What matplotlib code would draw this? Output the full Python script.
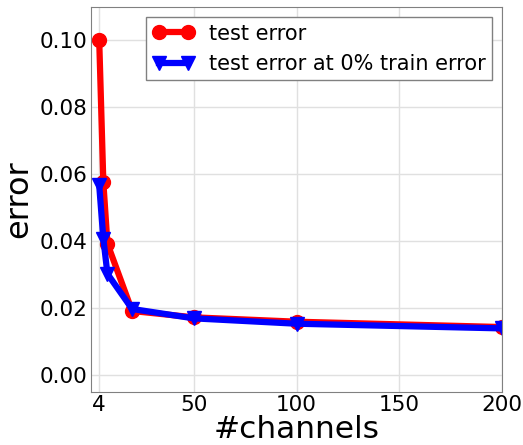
import matplotlib
matplotlib.use("Agg")
import matplotlib.pyplot as plt

channels_red = [4, 6, 8, 20, 50, 100, 200]
test_error = [0.100, 0.0577, 0.0393, 0.0192, 0.0173, 0.0160, 0.0144]

channels_blue = [4, 6, 8, 20, 50, 100, 200]
test_error_zero_train = [0.0567, 0.0408, 0.0303, 0.0198, 0.0170, 0.0154, 0.0140]

xticks = [4, 50, 100, 150, 200]
yticks = [0.00, 0.02, 0.04, 0.06, 0.08, 0.10]

fig = plt.figure(figsize=(5.23, 4.45), dpi=100)
ax = fig.add_axes([91 / 523, 1 - 392 / 445, 411 / 523, 385 / 445])

ax.plot(channels_red, test_error, color="red", marker="o", markersize=10,
        linewidth=4.5, label="test error")
ax.plot(channels_blue, test_error_zero_train, color="blue", marker="v", markersize=10,
        linewidth=4.5, label="test error at 0% train error")

ax.set_xlim(0, 200)
ax.set_ylim(-0.005, 0.11)
ax.set_xticks(xticks)
ax.set_yticks(yticks)
ax.tick_params(labelsize=15.5, length=0, pad=2.5)
ax.grid(True, color="#e0e0e0", linewidth=1)
for s in ax.spines.values():
    s.set_color("#808080")

ax.set_xlabel("#channels", fontsize=22.5, labelpad=-0.5)
ax.set_ylabel("error", fontsize=23, labelpad=4)

leg = ax.legend(loc="upper right", fontsize=15, numpoints=2, fancybox=False,
                framealpha=1, borderpad=0.3, handlelength=2.0, handletextpad=0.7)
leg.get_frame().set_edgecolor("#808080")

fig.savefig("out.png", dpi=100)
